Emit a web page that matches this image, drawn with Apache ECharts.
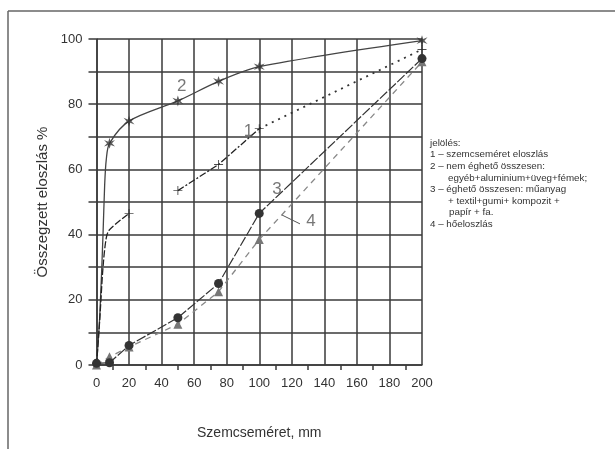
<!DOCTYPE html>
<html>
<head>
<meta charset="utf-8">
<script src="https://cdn.jsdelivr.net/npm/echarts@6/dist/echarts.min.js"></script>
<style>
  html, body { margin: 0; padding: 0; background: #fff; }
  #chart { width: 615px; height: 449px; }
</style>
</head>
<body>
<div id="chart"></div>
<script>
// curve 2 - nem éghető összesen (stars)
const curve2 = [[0, 0], [2, 15], [4, 40], [5, 55], [6, 63], [8, 68], [20, 74.8], [50, 81], [75, 87], [100, 91.5], [200, 99.5]];
const curve2Marks = [[8, 68], [20, 74.8], [50, 81], [75, 87], [100, 91.5], [200, 99.5]];
// curve 1 - szemcseméret eloszlás (crosses), three pieces
const curve1Low = [[0, 0], [2, 14], [4, 30], [6, 39], [8, 41.5], [20, 46.5]];
const curve1Mid = [[50, 53.5], [75, 61.5], [100, 72.5]];
const curve1Top = [[100, 72.5], [200, 96.8]];
const curve1Marks = [[20, 46.5], [50, 53.5], [75, 61.5], [100, 72.5], [200, 96.8]];
// curve 3 - éghető összesen (dots)
const curve3 = [[0, 0.5], [8, 0.7], [20, 6], [50, 14.5], [75, 25], [100, 46.5], [200, 94]];
// curve 4 - hőeloszlás (triangles)
const curve4 = [[0, 0], [8, 2.5], [20, 5.5], [50, 12.5], [75, 22.5], [100, 38.5], [200, 93]];
// curve number labels
const curveLabels = [['1', 93.4, 71.6], ['2', 52.4, 85.4], ['3', 110.9, 53.9], ['4', 131.8, 44]];
const leader4 = [[114, 46], [125, 43.3]];

// legend text lines and their indents
const legendLines = [
  'jelölés:',
  '1 – szemcseméret eloszlás',
  '2 – nem éghető összesen:',
  'egyéb+aluminium+üveg+fémek;',
  '3 – éghető összesen: műanyag',
  '+ textil+gumi+ kompozit +',
  'papír + fa.',
  '4 – hőeloszlás'
];
const legendIndent = [0, 0, 0, 18, 0, 18, 19, 0];

const font = '"Liberation Sans Narrow", "Liberation Sans", Arial, sans-serif';
const ink = '#3a3a3a';
const starPath = 'path://M0,-10 L2,-3 L9,-6 L4,0 L9,6 L2,3 L0,10 L-2,3 L-9,6 L-4,0 L-9,-6 L-2,-3 Z';
const plusPath = 'path://M-1,-10 L1,-10 L1,-1 L10,-1 L10,1 L1,1 L1,10 L-1,10 L-1,1 L-10,1 L-10,-1 L-1,-1 Z';

const chart = echarts.init(document.getElementById('chart'), null, { renderer: 'canvas' });

const legendGraphics = legendLines.map((t, i) => ({
  type: 'text', left: 430 + legendIndent[i], top: 138 + i * 11.6,
  style: { text: t, fontFamily: font, fontSize: 9.8, fill: '#333' }
}));

chart.setOption({
  animation: false,
  backgroundColor: '#fff',
  grid: { left: 96.5, right: 193, top: 39, bottom: 84 },
  xAxis: {
    type: 'value', min: 0, max: 200, interval: 20,
    name: 'Szemcseméret, mm', nameLocation: 'middle', nameGap: 61,
    nameTextStyle: { fontFamily: font, fontSize: 14, color: '#333' },
    axisLine: { show: true, lineStyle: { color: ink, width: 1.5 } },
    axisTick: { show: false },
    minorTick: { show: true, splitNumber: 2, length: 5, lineStyle: { color: ink, width: 1.5 } },
    axisLabel: { fontFamily: font, fontSize: 13, color: '#333', margin: 12 },
    splitLine: { show: true, lineStyle: { color: ink, width: 1.5 } }
  },
  yAxis: {
    type: 'value', min: 0, max: 100, interval: 10,
    name: 'Összegzett eloszlás %', nameLocation: 'middle', nameGap: 46, nameRotate: 90,
    nameTextStyle: { fontFamily: font, fontSize: 15, color: '#333' },
    axisLine: { show: true, lineStyle: { color: ink, width: 1.5 } },
    axisTick: { show: true, length: 8, lineStyle: { color: ink, width: 1.5 } },
    axisLabel: {
      fontFamily: font, fontSize: 13, color: '#333', margin: 14,
      formatter: v => (v % 20 === 0 ? String(v) : '')
    },
    splitLine: { show: true, lineStyle: { color: ink, width: 1.5 } }
  },
  graphic: [
    { type: 'line', shape: { x1: 8, y1: 11, x2: 615, y2: 11 }, style: { stroke: '#666', lineWidth: 1.5 } },
    { type: 'line', shape: { x1: 8, y1: 11, x2: 8, y2: 449 }, style: { stroke: '#666', lineWidth: 1.5 } }
  ].concat(legendGraphics),
  series: [
    {
      type: 'line', data: curve2, showSymbol: false, symbol: 'none', smooth: 0.3,
      lineStyle: { color: '#444', width: 1.3 }, z: 3
    },
    {
      type: 'scatter', data: curve2Marks, symbol: starPath, symbolSize: 11,
      itemStyle: { color: '#333' }, z: 5
    },
    {
      type: 'line', data: curve1Low, symbol: 'none', smooth: 0.3,
      lineStyle: { color: '#222', width: 1.3, type: [7, 2] }, z: 3
    },
    {
      type: 'line', data: curve1Mid, symbol: 'none',
      lineStyle: { color: '#222', width: 1.3, type: [7, 2, 2, 2] }, z: 3
    },
    {
      type: 'line', data: curve1Top, symbol: 'none',
      lineStyle: { color: '#333', width: 1.8, type: [2, 5] }, z: 3
    },
    {
      type: 'scatter', data: curve1Marks, symbol: plusPath, symbolSize: 9,
      itemStyle: { color: '#222' }, z: 5
    },
    {
      type: 'line', data: curve4, symbol: 'triangle', symbolSize: 9,
      itemStyle: { color: '#777' },
      lineStyle: { color: '#888', width: 1.3, type: [6, 5] }, z: 3
    },
    {
      type: 'line', data: curve3, symbol: 'circle', symbolSize: 9,
      itemStyle: { color: '#333' },
      lineStyle: { color: '#333', width: 1.2, type: [10, 2] }, z: 4
    },
    {
      type: 'line', data: leader4, symbol: 'none',
      lineStyle: { color: '#555', width: 1 }, z: 4
    },
    {
      type: 'scatter', data: curveLabels.map(d => [d[1], d[2], d[0]]), symbolSize: 0,
      label: {
        show: true, position: 'inside', formatter: p => p.value[2],
        fontFamily: font, fontSize: 17, color: '#555'
      }, z: 6
    }
  ]
});
</script>
</body>
</html>
